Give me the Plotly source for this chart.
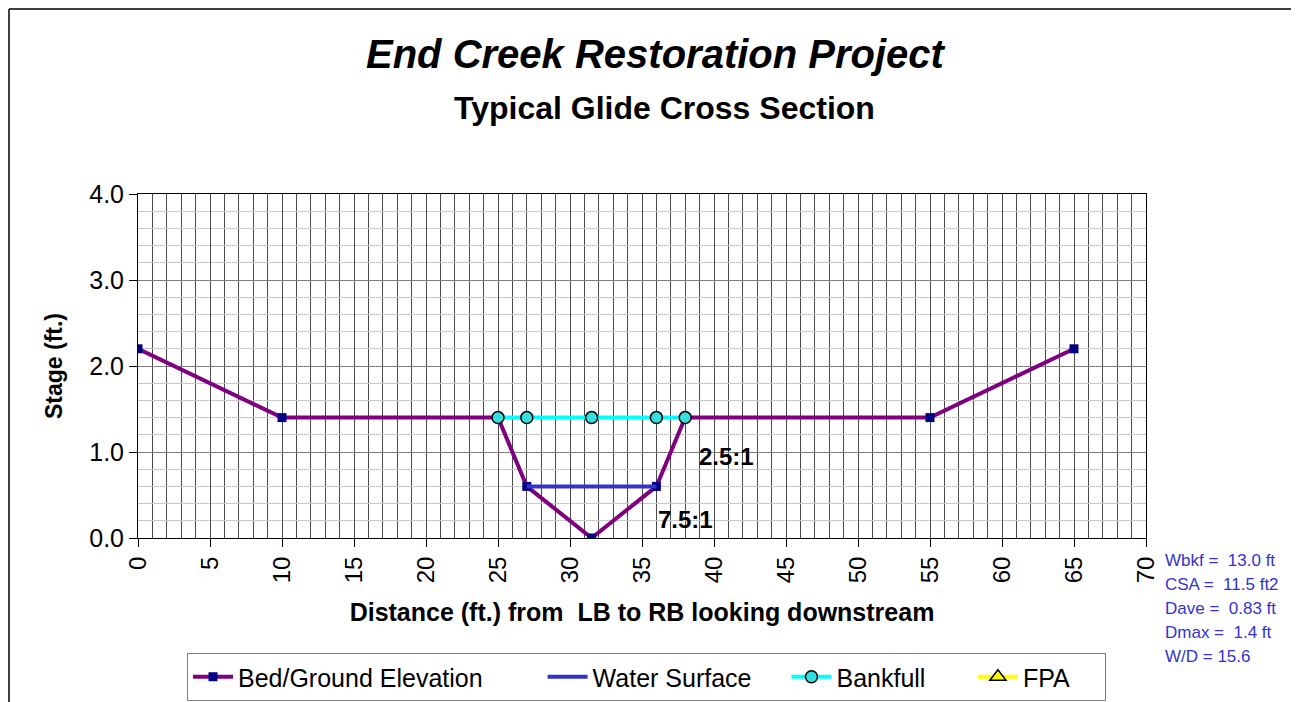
import plotly.graph_objects as go

# bed / ground profile
bed_x = [0, 10, 25, 27, 31.5, 36, 38, 55, 65]
bed_y = [2.2, 1.4, 1.4, 0.6, 0.0, 0.6, 1.4, 1.4, 2.2]

# water surface
ws_x = [27, 36]
ws_y = [0.6, 0.6]

# bankfull
bkf_x = [25, 27, 31.5, 36, 38]
bkf_y = [1.4, 1.4, 1.4, 1.4, 1.4]

# flood prone area (no points shown)
fpa_x = [None]
fpa_y = [None]

stats = ["Wbkf =  13.0 ft", "CSA =  11.5 ft2", "Dave =  0.83 ft", "Dmax =  1.4 ft", "W/D = 15.6"]

# page has an 8px body margin, so the figure is a bit smaller and offset
OFF = 8
W, H = 1299 - OFF, 702 - OFF
L, R, T, B = 138, 1146, 194, 538   # plot area, page pixels


def px(x):
    return (x - L) / (R - L)


def py(y):
    return (B - y) / (B - T)


# em / thin spaces widen the legend entries like the original
EM, TH = "\u2003", "\u2009"

fig = go.Figure()
fig.add_trace(go.Scatter(x=bed_x, y=bed_y, name="Bed/Ground Elevation" + EM + EM + TH,
                         mode="lines+markers",
                         line=dict(color="#800080", width=4),
                         marker=dict(symbol="square", size=9, color="#000080")))
fig.add_trace(go.Scatter(x=ws_x, y=ws_y, name="Water Surface" + EM + TH, mode="lines",
                         line=dict(color="#3333CC", width=4)))
fig.add_trace(go.Scatter(x=bkf_x, y=bkf_y, name="Bankfull" + EM + "\u2002" + TH,
                         mode="lines+markers",
                         line=dict(color="#00FFFF", width=4),
                         marker=dict(symbol="circle", size=12, color="#33E0E0",
                                     line=dict(color="black", width=1.5))))
fig.add_trace(go.Scatter(x=fpa_x, y=fpa_y, name="FPA" + EM + TH, mode="lines+markers",
                         line=dict(color="#FFFF00", width=4),
                         marker=dict(symbol="triangle-up", size=14, color="#FFFF00",
                                     line=dict(color="black", width=1.5))))

font = "Liberation Sans, Arial, sans-serif"

fig.update_layout(
    width=W, height=H,
    margin=dict(l=L - OFF, r=W - (R - OFF), t=T - OFF, b=H - (B - OFF), pad=0,
                autoexpand=False),
    paper_bgcolor="white", plot_bgcolor="white",
    font=dict(family=font, color="black", size=25),
    showlegend=True,
    legend=dict(orientation="h", x=px(187), y=py(653), xanchor="left", yanchor="top",
                bordercolor="#808080", borderwidth=1, font=dict(size=25),
                itemwidth=40, tracegroupgap=0),
    xaxis=dict(range=[0, 70], dtick=5, tick0=0, tickangle=-90, tickfont=dict(size=24),
               automargin=False,
               showgrid=True, gridcolor="#4a4a4a", gridwidth=1,
               minor=dict(dtick=1, showgrid=True, gridcolor="#4a4a4a", gridwidth=1),
               ticks="outside", ticklen=8, tickcolor="black",
               showline=True, linecolor="black", mirror=True, zeroline=False,
               title=dict(text="<b>Distance (ft.) from  LB to RB looking downstream</b>",
                          font=dict(size=25), standoff=21)),
    yaxis=dict(range=[0, 4], dtick=1, tickformat=".1f", tickfont=dict(size=25),
               automargin=False,
               showgrid=True, gridcolor="#808080", gridwidth=1,
               minor=dict(dtick=0.2, showgrid=True, gridcolor="#C8C8C8", gridwidth=1),
               ticks="outside", ticklen=8, tickcolor="black",
               showline=True, linecolor="black", mirror=True, zeroline=False,
               title=dict(text="<b>Stage (ft.)</b>", font=dict(size=23), standoff=20)),
)

fig.add_annotation(x=px(656), y=py(54), xref="paper", yref="paper", showarrow=False,
                   xanchor="center", yanchor="middle",
                   text="<b><i>End Creek Restoration Project</i></b>", font=dict(size=40))
fig.add_annotation(x=px(664), y=py(108), xref="paper", yref="paper", showarrow=False,
                   xanchor="center", yanchor="middle",
                   text="<b>Typical Glide Cross Section</b>", font=dict(size=32))
fig.add_annotation(x=px(697), y=py(456), xref="paper", yref="paper", showarrow=False,
                   xanchor="left", yanchor="middle", text="<b>2.5:1</b>", font=dict(size=24))
fig.add_annotation(x=px(656), y=py(519), xref="paper", yref="paper", showarrow=False,
                   xanchor="left", yanchor="middle", text="<b>7.5:1</b>", font=dict(size=24))

for i, s in enumerate(stats):
    fig.add_annotation(x=px(1163), y=py(560 + i * 24), xref="paper", yref="paper",
                       showarrow=False, xanchor="left", yanchor="middle", text=s,
                       font=dict(size=17, color="#3333CC"))

# outer chart border
fig.add_shape(type="line", xref="paper", yref="paper", x0=px(9), x1=px(1299), y0=py(9), y1=py(9),
              line=dict(color="black", width=1.5))
fig.add_shape(type="line", xref="paper", yref="paper", x0=px(9), x1=px(9), y0=py(9), y1=py(702),
              line=dict(color="black", width=1.5))

fig.write_html("out.html")
